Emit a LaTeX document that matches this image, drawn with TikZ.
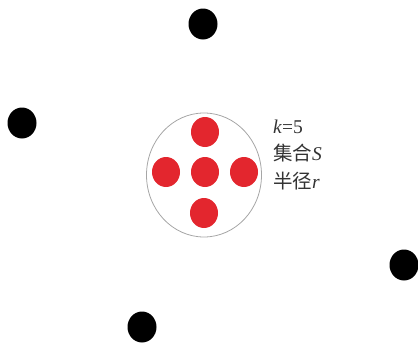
\documentclass[tikz,border=0pt]{standalone}
\usepackage{fontspec}
\setmainfont{Liberation Serif}
\newfontfamily\cjk{Noto Sans CJK SC}
\usepackage{tikz}
\usetikzlibrary{shapes.geometric,positioning}
\definecolor{knnred}{HTML}{E3262E}
\definecolor{knngray}{HTML}{A6A6A6}
\definecolor{knntext}{HTML}{333333}

\begin{document}
\begin{tikzpicture}[
    x=1pt, y=-1pt,
    outpt/.style={ellipse, fill=black, minimum width=29pt, minimum height=31pt, inner sep=0pt},
    inpt/.style={ellipse, fill=knnred, minimum width=28pt, minimum height=30pt, inner sep=0pt},
    searchzone/.style={ellipse, draw=knngray, line width=0.8pt, minimum width=115pt, minimum height=124pt, inner sep=0pt},
    infotext/.style={font=\fontsize{19.5}{27.5}\selectfont\color{knntext}, align=left, anchor=west, inner sep=0pt}
]
    \useasboundingbox (0,0) rectangle (418,343);

    % Search range
    \node (S) [searchzone] at (204,175) {};

    % Neighbours inside the range
    \node (n0) [inpt] at (205,172) {};
    \node (n1) [inpt] at (205,132) {};
    \node (n2) [inpt] at (166,172) {};
    \node (n3) [inpt] at (244,172) {};
    \node (n4) [inpt] at (204,213) {};

    % Points outside
    \node (p1) [outpt] at (203,24) {};
    \node (p2) [outpt] at (22,123) {};
    \node (p3) [outpt] at (404,265) {};
    \node (p4) [outpt] at (142,327) {};

    % Labels
    \node (info) [infotext] at (273,155) {\textit{k}=5\\{\cjk 集合}\textit{S}\\{\cjk 半径}\textit{r}};
\end{tikzpicture}
\end{document}
